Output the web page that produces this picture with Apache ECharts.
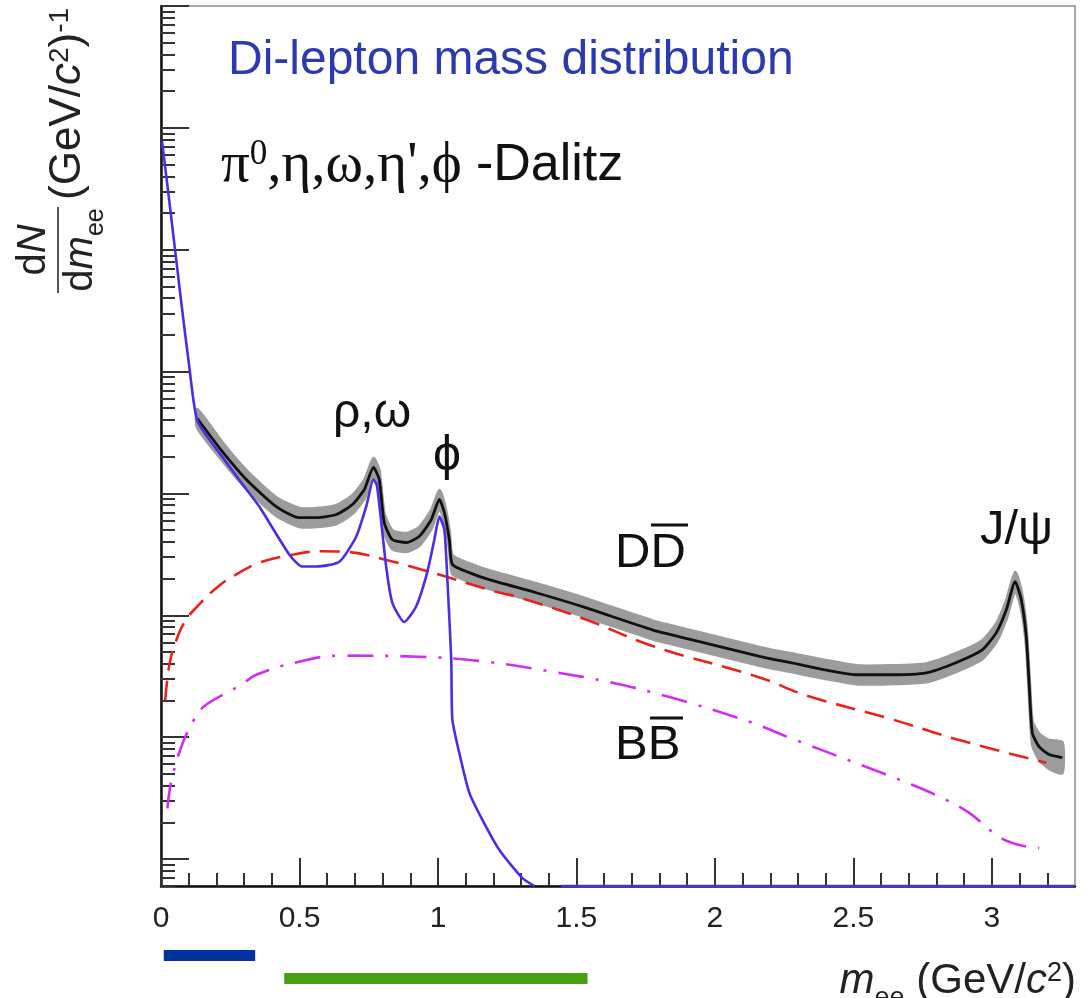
<!DOCTYPE html>
<html>
<head>
<meta charset="utf-8">
<script src="https://cdn.jsdelivr.net/npm/echarts@6/dist/echarts.min.js"></script>
<style>
  html, body { margin: 0; padding: 0; background: #ffffff; }
  #chart { width: 1088px; height: 998px; }
</style>
</head>
<body>
<div id="chart"></div>
<script>
// Pseudo-scalar / vector meson Dalitz + resonance cocktail (GeV/c^2, dN/dm)
const dalitzMass  = [0.004, 0.030, 0.072, 0.102, 0.132, 0.221, 0.308, 0.355, 0.463, 0.510, 0.561, 0.644, 0.705, 0.741, 0.767, 0.780, 0.813, 0.835, 0.878, 0.921, 0.961, 0.987, 1.005, 1.023, 1.034, 1.048, 1.052, 1.077, 1.113, 1.160, 1.221, 1.304, 1.348, 1.400, 1.445, 3.300];
const dalitzYield = [7.7e5, 2.5e5, 3.9e4, 1.1e4, 3.9e3, 2.0e3, 1080, 780, 315, 251, 251, 275, 443, 780, 1300, 1150, 251, 127, 88, 118, 224, 418, 646, 505, 196, 43, 13.9, 7.4, 3.5, 2.1, 1.19, 0.70, 0.60, null, 0.60, 0.60];

// Sum of all sources with its relative uncertainty
const totalMass  = [0.131, 0.221, 0.308, 0.416, 0.499, 0.561, 0.633, 0.691, 0.734, 0.767, 0.788, 0.806, 0.835, 0.886, 0.932, 0.976, 1.005, 1.023, 1.041, 1.052, 1.113, 1.185, 1.355, 1.536, 1.774, 1.955, 2.161, 2.269, 2.511, 2.630, 2.763, 2.872, 2.965, 3.016, 3.052, 3.084, 3.106, 3.124, 3.135, 3.146, 3.171, 3.207, 3.254];
const totalYield = [4120, 2210, 1300, 780, 634, 634, 671, 811, 1076, 1633, 1300, 577, 418, 395, 443, 611, 891, 697, 418, 261, 224, 196, 153, 115, 76, 60, 46, 41, 32.5, 32.5, 33.7, 41, 52, 72, 111, 189, 134, 67, 26, 10.8, 8.3, 7.2, 6.8];
const totalErr   = [0.19, 0.19, 0.19, 0.19, 0.19, 0.19, 0.19, 0.19, 0.19, 0.19, 0.19, 0.19, 0.19, 0.19, 0.19, 0.19, 0.19, 0.19, 0.19, 0.19, 0.19, 0.19, 0.19, 0.19, 0.19, 0.19, 0.19, 0.19, 0.19, 0.19, 0.19, 0.19, 0.19, 0.19, 0.19, 0.19, 0.19, 0.20, 0.22, 0.25, 0.28, 0.31, 0.34];

// Open charm (D Dbar) semi-leptonic pairs
const ddMass  = [0.015, 0.030, 0.048, 0.084, 0.138, 0.210, 0.283, 0.355, 0.463, 0.580, 0.680, 0.799, 0.979, 1.210, 1.294, 1.536, 1.774, 2.161, 2.330, 2.630, 2.872, 3.196];
const ddYield = [20, 39, 56, 87, 123, 175, 224, 270, 310, 335, 330, 290, 224, 156, 140, 92, 56, 30.9, 22, 14.2, 9.6, 6.15];

// Open bottom (B Bbar) pairs
const bbMass  = [0.023, 0.037, 0.073, 0.113, 0.149, 0.203, 0.290, 0.344, 0.499, 0.644, 0.932, 1.174, 1.413, 1.630, 1.846, 2.135, 2.269, 2.495, 2.712, 2.835, 2.918, 3.026, 3.099, 3.171];
const bbYield = [2.6, 4.3, 8.3, 13.1, 17.4, 21, 26.9, 32.5, 41.6, 46.6, 45.7, 41.6, 34.4, 27.9, 21, 13.1, 9.9, 6.3, 4.06, 3.05, 2.39, 1.52, 1.30, 1.23];

// Mass windows marked under the axis
const windowStart = [0.01, 0.445];
const windowEnd   = [0.34, 1.54];

// Axis ticks
const xMajorTicks = [0, 0.5, 1, 1.5, 2, 2.5, 3];
const xMinorTicks = [0.1, 0.2, 0.3, 0.4, 0.6, 0.7, 0.8, 0.9, 1.1, 1.2, 1.3, 1.4, 1.6, 1.7, 1.8, 1.9, 2.1, 2.2, 2.3, 2.4, 2.6, 2.7, 2.8, 2.9, 3.1, 3.2];
const yMajorTicks = [1, 10, 100, 1e3, 1e4, 1e5, 1e6, 1e7];
const yMinorTicks = [];
[0.1, 1, 10, 100, 1e3, 1e4, 1e5, 1e6].forEach(function (d) {
  for (let k = 2; k <= 9; k++) yMinorTicks.push(+(k * d).toPrecision(3));
});

const Y_MIN = 0.6, Y_MAX = 1e7, X_MIN = 0, X_MAX = 3.3;

function pairs(xs, ys) {
  return xs.map(function (x, i) { return [x, ys[i] === null ? '-' : ys[i]]; });
}

const SANS = '"Liberation Sans", Arial, Helvetica, sans-serif';
const SERIF = '"Liberation Serif", "Times New Roman", serif';
const windowColors = ['#0033a0', '#4a9e12'];
const windowOffsets = [64, 87];

const chart = echarts.init(document.getElementById('chart'), null, { renderer: 'canvas' });

const option = {
  backgroundColor: '#ffffff',
  animation: false,
  grid: {
    left: 161, right: 13, top: 6, bottom: 112,
    show: true, borderColor: '#8a8a8a', borderWidth: 1.5, backgroundColor: 'transparent'
  },
  xAxis: [
    {
      type: 'value', min: X_MIN, max: X_MAX, position: 'bottom',
      axisLine: { onZero: false, lineStyle: { color: '#111', width: 2.5 } },
      axisTick: { inside: true, length: 28, customValues: xMajorTicks, lineStyle: { color: '#333', width: 2 } },
      axisLabel: { customValues: xMajorTicks, margin: 18, fontSize: 30, color: '#222', fontFamily: SANS },
      splitLine: { show: false }
    },
    {
      type: 'value', min: X_MIN, max: X_MAX, position: 'bottom',
      axisLine: { show: false, onZero: false },
      axisTick: { inside: true, length: 13, customValues: xMinorTicks, lineStyle: { color: '#333', width: 2 } },
      axisLabel: { show: false },
      splitLine: { show: false }
    }
  ],
  yAxis: [
    {
      type: 'log', logBase: 10, min: Y_MIN, max: Y_MAX, position: 'left',
      axisLine: { show: true, onZero: false, lineStyle: { color: '#111', width: 2.5 } },
      axisTick: { inside: true, length: 28, customValues: yMajorTicks, lineStyle: { color: '#333', width: 2 } },
      axisLabel: { show: false },
      splitLine: { show: false }
    },
    {
      type: 'log', logBase: 10, min: Y_MIN, max: Y_MAX, position: 'left',
      axisLine: { show: false, onZero: false },
      axisTick: { inside: true, length: 14, customValues: yMinorTicks, lineStyle: { color: '#333', width: 2 } },
      axisLabel: { show: false },
      splitLine: { show: false }
    }
  ],
  series: [
    {
      // uncertainty band of the summed cocktail
      type: 'custom', name: 'total-band', silent: true, z: 1,
      data: [[0]],
      renderItem: function (params, api) {
        const upper = [], lower = [];
        for (let i = 0; i < totalMass.length; i++) {
          upper.push(api.coord([totalMass[i], totalYield[i] * (1 + totalErr[i])]));
          lower.push(api.coord([totalMass[i], totalYield[i] / (1 + totalErr[i])]));
        }
        return {
          type: 'polygon',
          shape: { points: upper.concat(lower.reverse()), smooth: 0.2 },
          style: { fill: '#9c9c9c', stroke: '#9c9c9c', lineWidth: 3, lineJoin: 'round' }
        };
      }
    },
    {
      type: 'line', name: 'DD', z: 3, symbol: 'none', smooth: 0.4,
      data: pairs(ddMass, ddYield),
      lineStyle: { color: '#e8231b', width: 2.6, type: [20, 10] }
    },
    {
      type: 'line', name: 'BB', z: 3, symbol: 'none', smooth: 0.4,
      data: pairs(bbMass, bbYield),
      lineStyle: { color: '#d02ff0', width: 2.6, type: [26, 12, 3, 12] }
    },
    {
      type: 'line', name: 'total', z: 4, symbol: 'none', smooth: 0.2,
      data: pairs(totalMass, totalYield),
      lineStyle: { color: '#111111', width: 2.8 }
    },
    {
      type: 'line', name: 'dalitz', z: 5, symbol: 'none', connectNulls: false, smooth: 0.2,
      data: pairs(dalitzMass, dalitzYield),
      lineStyle: { color: '#4b2de6', width: 2.6 }
    },
    {
      // mass windows drawn beneath the horizontal axis
      type: 'custom', name: 'windows', silent: true, clip: false, z: 6,
      data: windowStart.map(function (s, i) { return [s, windowEnd[i], i]; }),
      renderItem: function (params, api) {
        const i = api.value(2);
        const a = api.coord([api.value(0), Y_MIN]);
        const b = api.coord([api.value(1), Y_MIN]);
        return {
          type: 'rect',
          shape: { x: a[0], y: a[1] + windowOffsets[i], width: b[0] - a[0], height: 11 },
          style: { fill: windowColors[i] }
        };
      }
    }
  ],
  graphic: [
    {
      type: 'text', left: 228, top: 37, z: 20,
      style: { text: 'Di-lepton mass distribution', font: '48px ' + SANS, fill: '#2b3ab0' }
    },
    {
      type: 'text', x: 221, y: 166, z: 20,
      style: {
        text: '{g|π}{s|0}{g|,η,ω,η\',ϕ }{t|-Dalitz}',
        verticalAlign: 'middle', align: 'left',
        rich: {
          g: { fontFamily: SERIF, fontSize: 57, fill: '#111' },
          s: { fontFamily: SERIF, fontSize: 35, fill: '#111', verticalAlign: 'top' },
          t: { fontFamily: SANS, fontSize: 52, fill: '#111' }
        }
      }
    },
    { type: 'text', x: 333, y: 414, z: 20, style: { text: 'ρ,ω', font: '48px ' + SANS, fill: '#111', verticalAlign: 'middle' } },
    { type: 'text', x: 447, y: 456, z: 20, style: { text: 'ϕ', font: '50px ' + SANS, fill: '#111', align: 'center', verticalAlign: 'middle' } },
    { type: 'text', x: 615, y: 553, z: 20, style: { text: 'DD', font: '49px ' + SANS, fill: '#111', verticalAlign: 'middle' } },
    { type: 'line', z: 20, shape: { x1: 651, y1: 525, x2: 688, y2: 525 }, style: { stroke: '#111', lineWidth: 3 } },
    { type: 'text', x: 615, y: 745, z: 20, style: { text: 'BB', font: '49px ' + SANS, fill: '#111', verticalAlign: 'middle' } },
    { type: 'line', z: 20, shape: { x1: 650, y1: 718, x2: 683, y2: 718 }, style: { stroke: '#111', lineWidth: 3 } },
    { type: 'text', x: 980, y: 530, z: 20, style: { text: 'J/ψ', font: '49px ' + SANS, fill: '#111', verticalAlign: 'middle' } },
    {
      // horizontal axis title
      type: 'text', x: 1076, y: 981, z: 20,
      style: {
        text: '{i|m}{s|ee}{r| (GeV/}{i|c}{p|2}{r|)}',
        align: 'right', verticalAlign: 'middle',
        rich: {
          r: { fontFamily: SANS, fontSize: 42, fill: '#222' },
          i: { fontFamily: SANS, fontStyle: 'italic', fontSize: 42, fill: '#222' },
          s: { fontFamily: SANS, fontSize: 27, fill: '#222', verticalAlign: 'bottom', padding: [0, 0, -10, 0] },
          p: { fontFamily: SANS, fontSize: 27, fill: '#222', verticalAlign: 'top' }
        }
      }
    },
    {
      // vertical axis title: dN/dm_ee (GeV/c^2)^-1
      type: 'group', x: 58, y: 250, rotation: Math.PI / 2, z: 20,
      children: [
        {
          type: 'text', x: 0, y: -4,
          style: {
            text: '{r|d}{i|N}', align: 'center', verticalAlign: 'bottom',
            rich: {
              r: { fontFamily: SANS, fontSize: 40, fill: '#222' },
              i: { fontFamily: SANS, fontStyle: 'italic', fontSize: 40, fill: '#222' }
            }
          }
        },
        { type: 'line', shape: { x1: -43, y1: 0, x2: 43, y2: 0 }, style: { stroke: '#555', lineWidth: 2 } },
        {
          type: 'text', x: 0, y: 3,
          style: {
            text: '{r|d}{i|m}{s|ee}', align: 'center', verticalAlign: 'top',
            rich: {
              r: { fontFamily: SANS, fontSize: 40, fill: '#222' },
              i: { fontFamily: SANS, fontStyle: 'italic', fontSize: 40, fill: '#222' },
              s: { fontFamily: SANS, fontSize: 25, fill: '#222', verticalAlign: 'bottom', padding: [0, 0, -8, 0] }
            }
          }
        },
        {
          type: 'text', x: 50, y: 10,
          style: {
            text: '{r|(GeV/}{i|c}{p|2}{r|)}{p|-1}', align: 'left', verticalAlign: 'middle',
            rich: {
              r: { fontFamily: SANS, fontSize: 44, fill: '#222' },
              i: { fontFamily: SANS, fontStyle: 'italic', fontSize: 44, fill: '#222' },
              p: { fontFamily: SANS, fontSize: 28, fill: '#222', verticalAlign: 'top' }
            }
          }
        }
      ]
    }
  ]
};

chart.setOption(option);
</script>
</body>
</html>
